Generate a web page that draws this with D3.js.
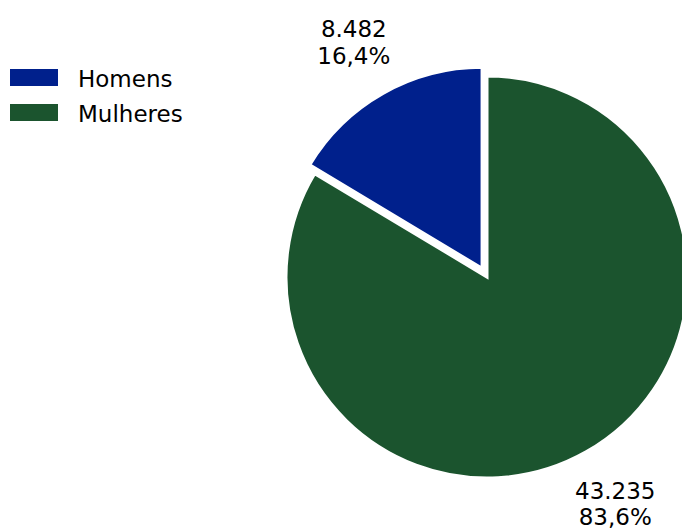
<!DOCTYPE html>
<html>
<head>
<meta charset="utf-8">
<script src="https://cdn.jsdelivr.net/npm/d3@7"></script>
<style>
  html, body { margin: 0; padding: 0; background: #fff; }
  svg { display: block; font-family: "DejaVu Sans", sans-serif; }
</style>
</head>
<body>
<svg id="chart" width="682" height="529"></svg>
<script>
// Distribution by sex
const categories = ["Homens", "Mulheres"];
const values = [8482, 43235];
const colors = ["#00208c", "#1b542e"];
const explode = [1, 0];

const width = 682, height = 529;
const svg = d3.select("#chart");

const cx = 487, cy = 277, radius = 201;
const explodeDist = 10;
const labelDist = 1.295;
const fontSize = 23, lineH = 26.5, capH = 17;

const total = d3.sum(values);
const fmtNum = d3.formatLocale({ decimal: ",", thousands: ".", grouping: [3], currency: ["R$", ""] });
const fmtInt = fmtNum.format(",d");
const fmtPct = fmtNum.format(".1f");

// Counterclockwise from 12 o'clock
const pie = d3.pie().sort(null).value(d => d.value).startAngle(0).endAngle(-2 * Math.PI);
const data = categories.map((c, i) => ({ name: c, value: values[i], color: colors[i], explode: explode[i] }));
const arcs = pie(data);

const arc = d3.arc().innerRadius(0).outerRadius(radius);

const g = svg.append("g");
arcs.forEach(a => {
  const mid = (a.startAngle + a.endAngle) / 2;
  const off = a.data.explode ? explodeDist : 0;
  const ox = cx + Math.sin(mid) * off;
  const oy = cy - Math.cos(mid) * off;

  g.append("path")
    .attr("transform", `translate(${ox},${oy})`)
    .attr("d", arc(a))
    .attr("fill", a.data.color)
    .attr("stroke", "#fff")
    .attr("stroke-width", 3)
    .attr("stroke-linejoin", "miter");

  const lx = ox + Math.sin(mid) * radius * labelDist;
  const ly = oy - Math.cos(mid) * radius * labelDist;
  const t = svg.append("text")
    .attr("text-anchor", "middle")
    .attr("font-size", fontSize)
    .attr("fill", "#000");
  t.append("tspan").attr("x", lx).attr("y", ly - lineH / 2 + capH / 2).text(fmtInt(a.data.value));
  t.append("tspan").attr("x", lx).attr("y", ly + lineH / 2 + capH / 2).text(fmtPct(a.data.value / total * 100) + "%");
});

// Legend
const legend = svg.append("g").attr("transform", "translate(10,69)");
categories.forEach((c, i) => {
  const row = legend.append("g").attr("transform", `translate(0,${i * 35})`);
  row.append("rect").attr("width", 48).attr("height", 17).attr("fill", colors[i]);
  row.append("text").attr("x", 68).attr("y", 17.5).attr("font-size", fontSize).attr("fill", "#000").text(c);
});
</script>
</body>
</html>
